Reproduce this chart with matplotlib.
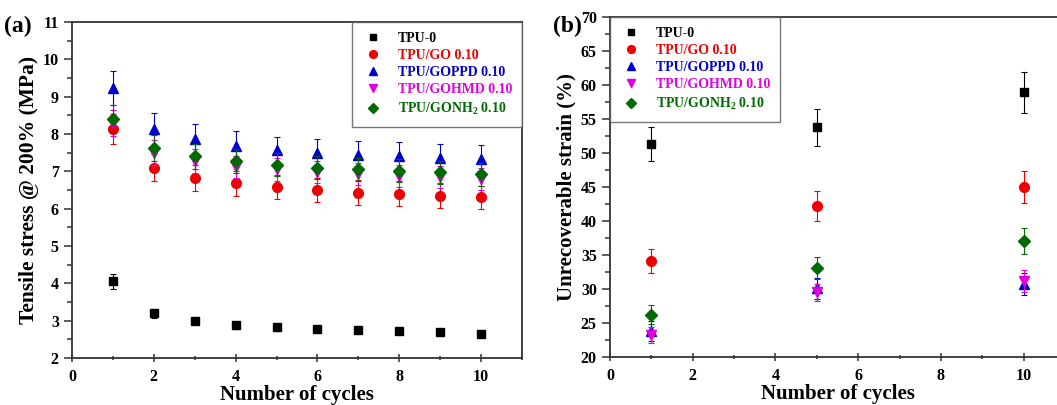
import matplotlib
matplotlib.use("Agg")
import matplotlib.pyplot as plt
from matplotlib.lines import Line2D
from matplotlib.ticker import MultipleLocator

plt.rcParams['font.family'] = ['Liberation Serif', 'DejaVu Serif']
plt.rcParams['font.weight'] = 'bold'
plt.rcParams['mathtext.fontset'] = 'custom'
plt.rcParams['mathtext.rm'] = 'Liberation Serif:bold'
plt.rcParams['mathtext.bf'] = 'Liberation Serif:bold'

labels = ['TPU-0', 'TPU/GO 0.10', 'TPU/GOPPD 0.10', 'TPU/GOHMD 0.10',
          'TPU/GONH$_2$ 0.10']
colors = ['#000000', '#ee0000', '#0000cc', '#e000e0', '#006a00']
markers = ['s', 'o', '^', 'v', 'D']
msizes = [5.5, 7, 7, 7, 6]

# (a) tensile stress at 200% strain vs. cycle number
cycles_a = [1, 2, 3, 4, 5, 6, 7, 8, 9, 10]
stress_tpu0 = [4.05, 3.20, 3.00, 2.88, 2.82, 2.78, 2.74, 2.71, 2.69, 2.64]
stress_go = [8.13, 7.10, 6.83, 6.68, 6.58, 6.50, 6.43, 6.40, 6.35, 6.30]
stress_goppd = [9.23, 8.13, 7.87, 7.68, 7.56, 7.49, 7.43, 7.40, 7.36, 7.32]
stress_gohmd = [8.30, 7.50, 7.28, 7.12, 7.05, 6.98, 6.93, 6.88, 6.85, 6.80]
stress_gonh2 = [8.40, 7.62, 7.40, 7.27, 7.18, 7.10, 7.06, 7.02, 6.97, 6.92]
err_tpu0 = [0.20, 0.12, 0.10, 0.09, 0.09, 0.09, 0.08, 0.08, 0.08, 0.08]
err_go = [0.40, 0.37, 0.35, 0.34, 0.33, 0.33, 0.33, 0.33, 0.33, 0.32]
err_goppd = [0.45, 0.43, 0.41, 0.39, 0.37, 0.37, 0.38, 0.38, 0.38, 0.38]
err_gohmd = [0.35, 0.33, 0.32, 0.30, 0.30, 0.30, 0.30, 0.30, 0.30, 0.30]
err_gonh2 = [0.38, 0.35, 0.33, 0.32, 0.31, 0.31, 0.31, 0.31, 0.31, 0.31]

# (b) unrecoverable strain after 1, 5 and 10 cycles
cycles_b = [1, 5, 10]
strain_tpu0 = [51.3, 53.8, 58.9]
strain_go = [34.1, 42.2, 45.0]
strain_goppd = [23.8, 30.1, 30.7]
strain_gohmd = [23.2, 29.5, 31.2]
strain_gonh2 = [26.2, 33.1, 37.1]
serr_tpu0 = [2.5, 2.7, 3.0]
serr_go = [1.8, 2.2, 2.3]
serr_goppd = [1.5, 1.5, 1.6]
serr_gohmd = [1.2, 1.3, 1.6]
serr_gonh2 = [1.4, 1.6, 1.9]

stress = [stress_tpu0, stress_go, stress_goppd, stress_gohmd, stress_gonh2]
stress_err = [err_tpu0, err_go, err_goppd, err_gohmd, err_gonh2]
strain = [strain_tpu0, strain_go, strain_goppd, strain_gohmd, strain_gonh2]
strain_err = [serr_tpu0, serr_go, serr_goppd, serr_gohmd, serr_gonh2]

fig = plt.figure(figsize=(10.57, 4.05), dpi=100)
W, H = 1057, 405
ax_a = fig.add_axes([72 / W, 1 - 358 / H, 450 / W, 336 / H])
ax_b = fig.add_axes([610 / W, 1 - 357 / H, 455 / W, 340 / H])

draw_order = [3, 4, 1, 2, 0]


def draw(ax, x, ys, es):
    for i in draw_order:
        ax.errorbar(x, ys[i], yerr=es[i], fmt=markers[i], color=colors[i],
                    ms=msizes[i], mec=colors[i], elinewidth=0.8,
                    capsize=2.5, capthick=0.8, zorder=3 + i)


def style(ax):
    for s in ax.spines.values():
        s.set_linewidth(1.3)
        s.set_color('#333333')
    ax.tick_params(which='both', top=False, right=False,
                   labelsize=11.5, width=1.1, color='#333333')
    ax.tick_params(axis='y', which='both', direction='out')
    ax.tick_params(axis='x', which='both', direction='inout')
    ax.tick_params(which='major', length=6)
    ax.tick_params(which='minor', length=3.5)
    ax.tick_params(axis='x', which='major', pad=5)
    ax.xaxis.set_major_locator(MultipleLocator(2))
    ax.xaxis.set_minor_locator(MultipleLocator(1))
    for t in ax.get_xticklabels() + ax.get_yticklabels():
        t.set_fontweight('bold')
    ax.set_xlabel('Number of cycles', fontsize=15, fontweight='bold', labelpad=0)


draw(ax_a, cycles_a, stress, stress_err)
ax_a.set_xlim(0, 11)
ax_a.set_ylim(2, 11)
ax_a.yaxis.set_major_locator(MultipleLocator(1))
ax_a.yaxis.set_minor_locator(MultipleLocator(0.5))
style(ax_a)
ax_a.set_ylabel('Tensile stress @ 200% (MPa)', fontsize=15.5, fontweight='bold',
                labelpad=3)

draw(ax_b, cycles_b, strain, strain_err)
ax_b.set_xlim(0, 11)
ax_b.set_ylim(20, 70)
ax_b.yaxis.set_major_locator(MultipleLocator(5))
ax_b.yaxis.set_minor_locator(MultipleLocator(2.5))
style(ax_b)
ax_b.set_ylabel('Unrecoverable strain (%)', fontsize=15, fontweight='bold',
                labelpad=3)


def legend(ax, loc):
    handles = [Line2D([], [], ls='none', marker=m, color=c, mec=c, ms=s * 0.8)
               for m, c, s in zip(markers, colors, msizes)]
    leg = ax.legend(handles, labels, loc=loc, fontsize=10, frameon=True,
                    fancybox=False, edgecolor='#555555', handletextpad=1.0,
                    labelspacing=0.3, borderaxespad=0.0, borderpad=0.7,
                    handlelength=1.6)
    leg.get_frame().set_linewidth(1.0)
    for txt, c in zip(leg.get_texts(), colors):
        txt.set_color(c)
        txt.set_fontweight('bold')
    return leg


legend(ax_a, 'upper right')
legend(ax_b, 'upper left')

fig.text(4 / W, 1 - 32 / H, '(a)', fontsize=17, fontweight='bold', va='baseline')
fig.text(553 / W, 1 - 32 / H, '(b)', fontsize=17, fontweight='bold', va='baseline')

fig.savefig('out.png', dpi=100, facecolor='white')
